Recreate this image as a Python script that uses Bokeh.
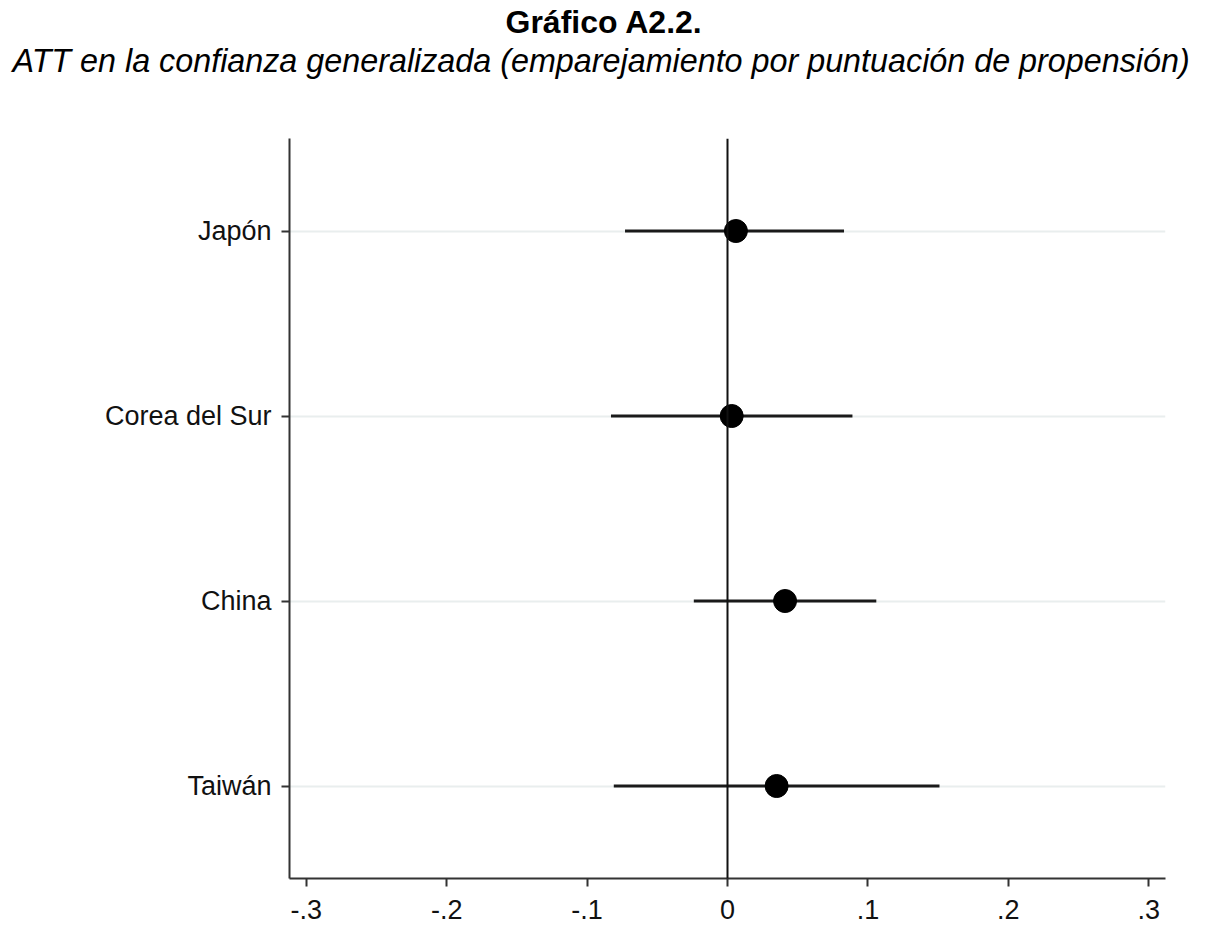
from bokeh.plotting import figure
from bokeh.models import Span, Title, FixedTicker, FactorRange, Range1d
from bokeh.embed import file_html
from bokeh.resources import INLINE

# ---- data ----
countries = ["Taiwán", "China", "Corea del Sur", "Japón"]
att = [0.035, 0.041, 0.003, 0.006]
ci_low = [-0.081, -0.024, -0.083, -0.073]
ci_high = [0.151, 0.106, 0.089, 0.083]
tick_values = [-0.3, -0.2, -0.1, 0.0, 0.1, 0.2, 0.3]
tick_labels = ["-.3", "-.2", "-.1", "0", ".1", ".2", ".3"]
title_text = "Gráfico A2.2."
subtitle_text = "ATT en la confianza generalizada (emparejamiento por puntuación de propensión)"

FONT = "Liberation Sans"

p = figure(width=1214, height=934, output_backend="svg", toolbar_location=None,
           y_range=FactorRange(factors=countries), x_range=Range1d(-0.312, 0.312),
           frame_width=876, frame_height=740,
           min_border_left=289, min_border_right=49, min_border_top=138, min_border_bottom=56)
p.outline_line_color = None
p.background_fill_color = "white"

# grid
p.xgrid.visible = False
p.ygrid.grid_line_color = "#e9eeee"
p.ygrid.grid_line_width = 2

# axes
for ax in (p.xaxis[0], p.yaxis[0]):
    ax.axis_line_color = "#333333"
    ax.axis_line_width = 2
    ax.major_tick_line_color = "#333333"
    ax.major_tick_line_width = 2
    ax.major_tick_out = 8
    ax.major_tick_in = 0
    ax.minor_tick_line_color = None
    ax.major_label_text_font = FONT
    ax.major_label_text_font_size = "27px"
    ax.major_label_text_color = "#111111"

p.xaxis.ticker = FixedTicker(ticks=tick_values)
p.xaxis.major_label_overrides = {v: l for v, l in zip(tick_values, tick_labels)}
p.xaxis.major_label_standoff = 13
p.yaxis.major_label_standoff = 10

# zero line
p.add_layout(Span(location=0, dimension="height", line_color="#111111", line_width=2))

# confidence intervals and points
p.segment(x0=ci_low, y0=countries, x1=ci_high, y1=countries, line_color="#1a1a1a", line_width=3)
p.scatter(x=att, y=countries, size=23, fill_color="black", line_color="black")

# titles: an empty spacer next to the frame, then subtitle, then main title
p.add_layout(Title(text=" ", align="left", standoff=44, text_font=FONT,
                   text_font_size="10px"), "above")
p.add_layout(Title(text=subtitle_text, align="left", offset=-277, standoff=1, vertical_align="top",
                   text_font=FONT, text_font_style="italic", text_font_size="32.3px",
                   text_color="black"), "above")
p.add_layout(Title(text=title_text, align="left", offset=216, standoff=1, vertical_align="top",
                   text_font=FONT, text_font_style="bold", text_font_size="32px",
                   text_color="black"), "above")

open("out.html", "w").write(file_html(p, INLINE))
